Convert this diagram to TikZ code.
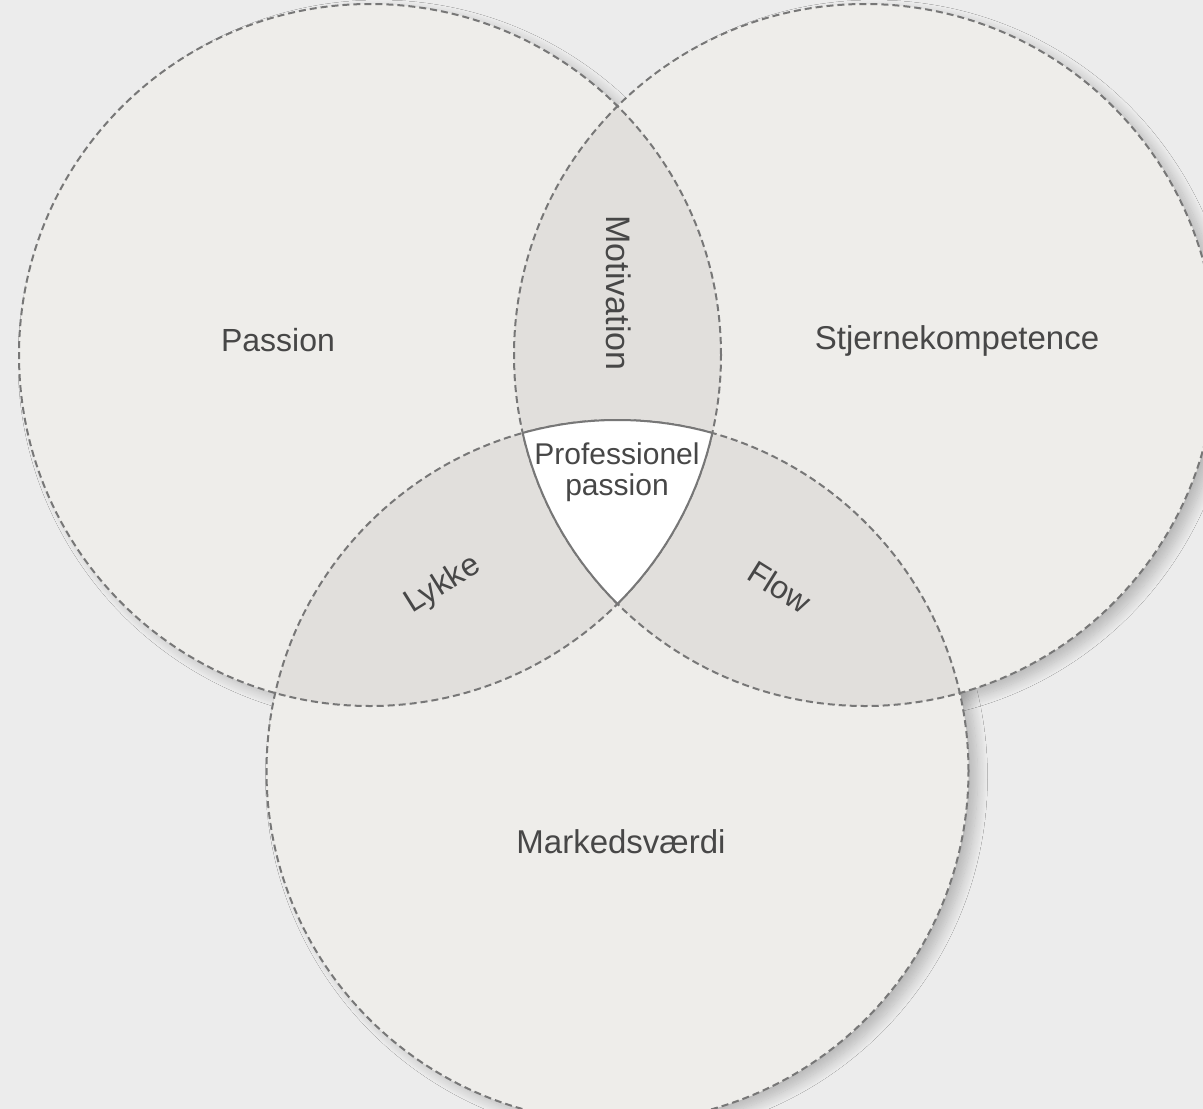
\documentclass[tikz,border=0pt]{standalone}
\usepackage{fontspec}
\setmainfont{Liberation Sans}
\usetikzlibrary{shadows.blur}
\definecolor{bg}{HTML}{ECECEC}
\definecolor{cfill}{HTML}{EEEDEA}
\definecolor{ovfill}{HTML}{E1DFDC}
\definecolor{edgecol}{HTML}{777777}
\definecolor{txt}{HTML}{474747}
\tikzset{
  setfill/.style={fill=cfill},
  setshadow/.style={fill=cfill, blur shadow={shadow xshift=9pt, shadow yshift=-6pt, shadow blur radius=10pt, shadow blur steps=14, shadow opacity=22}},
  dashedge/.style={draw=edgecol, line width=2pt, dash pattern=on 7pt off 4pt},
  solidedge/.style={draw=edgecol, line width=2pt},
  lab/.style={text=txt, inner sep=0pt, font=\fontsize{32}{38}\selectfont},
}
\begin{document}
\begin{tikzpicture}[x=1pt,y=-1pt]
\fill[bg] (0,0) rectangle (1203,1109);
\useasboundingbox (0,0) rectangle (1203,1109);
\coordinate (A) at (370,355);
\coordinate (B) at (865,355);
\coordinate (C) at (617.5,771);
\def\R{351pt}
% shadows and base fills
\fill[setshadow] (A) circle (\R);
\fill[setshadow] (B) circle (\R);
\fill[setshadow] (C) circle (\R);
\fill[setfill] (A) circle (\R);
\fill[setfill] (B) circle (\R);
\fill[setfill] (C) circle (\R);
% pairwise overlaps
\begin{scope}\clip (A) circle (\R); \fill[ovfill] (B) circle (\R);\end{scope}
\begin{scope}\clip (A) circle (\R); \fill[ovfill] (C) circle (\R);\end{scope}
\begin{scope}\clip (B) circle (\R); \fill[ovfill] (C) circle (\R);\end{scope}
% dashed outlines
\draw[dashedge] (A) circle (\R);
\draw[dashedge] (B) circle (\R);
\draw[dashedge] (C) circle (\R);
% triple region
\begin{scope}\clip (A) circle (\R); \clip (B) circle (\R); \fill[white] (C) circle (\R);\end{scope}
\begin{scope}\clip (A) circle (\R); \clip (B) circle (\R); \draw[solidedge] (C) circle (\R);\end{scope}
\begin{scope}\clip (A) circle (\R); \clip (C) circle (\R); \draw[solidedge] (B) circle (\R);\end{scope}
\begin{scope}\clip (B) circle (\R); \clip (C) circle (\R); \draw[solidedge] (A) circle (\R);\end{scope}
% labels
\node[lab] (passion) at (278,340) {Passion};
\node[lab, font=\fontsize{33}{38}\selectfont] (stjerne) at (957,341) {Stjernekompetence};
\node[lab, font=\fontsize{33}{38}\selectfont] (marked) at (621,842) {Markedsværdi};
\node[lab, font=\fontsize{34}{38}\selectfont, rotate=-90] (motiv) at (619,293) {Motivation};
\node[lab, font=\fontsize{30}{31}\selectfont, align=center] (prof) at (617,472) {Professionel\\passion};
\node[lab, rotate=32] (lykke) at (443,585) {Lykke};
\node[lab, rotate=-32] (flow) at (780,587) {Flow};
\end{tikzpicture}
\end{document}
